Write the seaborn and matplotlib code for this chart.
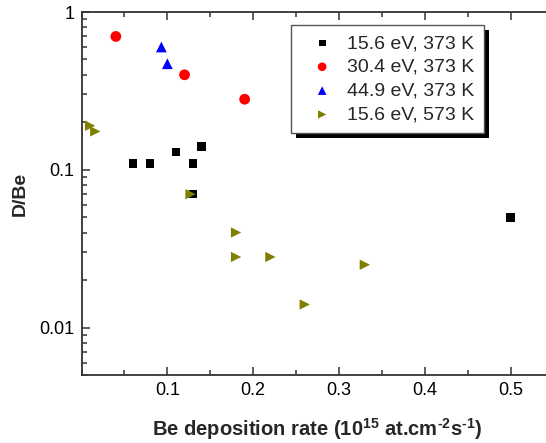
import numpy as np
import pandas as pd
import matplotlib
matplotlib.use('Agg')
import matplotlib.pyplot as plt
import seaborn as sns
from matplotlib.patches import Rectangle
from matplotlib.ticker import LogLocator, MultipleLocator, FixedLocator, FixedFormatter

# data
labels = ['15.6 eV, 373 K', '30.4 eV, 373 K', '44.9 eV, 373 K', '15.6 eV, 573 K']

x_156_373 = [0.06, 0.08, 0.11, 0.13, 0.14, 0.13, 0.50]
y_156_373 = [0.11, 0.11, 0.13, 0.11, 0.14, 0.07, 0.05]

x_304_373 = [0.04, 0.12, 0.19]
y_304_373 = [0.70, 0.40, 0.28]

x_449_373 = [0.093, 0.10]
y_449_373 = [0.60, 0.47]

x_156_573 = [0.010, 0.016, 0.127, 0.18, 0.18, 0.22, 0.26, 0.33]
y_156_573 = [0.19, 0.175, 0.07, 0.04, 0.028, 0.028, 0.014, 0.025]

yticks = [0.01, 0.1, 1]
ytick_labels = ['0.01', '0.1', '1']
xticks = [0.1, 0.2, 0.3, 0.4, 0.5]

xs = [x_156_373, x_304_373, x_449_373, x_156_573]
ys = [y_156_373, y_304_373, y_449_373, y_156_573]
df = pd.concat([pd.DataFrame({'rate': x, 'dbe': y, 'series': lab})
                for x, y, lab in zip(xs, ys, labels)], ignore_index=True)

sns.set_theme(style='ticks')
plt.rcParams['font.family'] = ['Liberation Sans', 'DejaVu Sans']
plt.rcParams['mathtext.fontset'] = 'custom'
plt.rcParams['mathtext.rm'] = 'Liberation Sans'
plt.rcParams['mathtext.bf'] = 'Liberation Sans:bold'

fig = plt.figure(figsize=(5.46, 4.43), dpi=100)
ax = fig.add_axes([0.1493, 0.1535, 0.8648, 0.8194])

palette = {labels[0]: 'black', labels[1]: '#ff0000', labels[2]: '#0000ff', labels[3]: '#808000'}
markers = {labels[0]: 's', labels[1]: 'o', labels[2]: '^', labels[3]: '>'}
sizes = {labels[0]: 38, labels[1]: 60, labels[2]: 60, labels[3]: 55}

for lab in labels:
    sub = df[df['series'] == lab]
    sns.scatterplot(data=sub, x='rate', y='dbe', color=palette[lab], marker=markers[lab],
                    s=sizes[lab], edgecolor='none', linewidth=0, label=lab, ax=ax, zorder=3)

ax.set_yscale('log')
ax.set_xlim(0, 0.55)
ax.set_ylim(0.005, 1)

ax.xaxis.set_major_locator(FixedLocator(xticks))
ax.xaxis.set_minor_locator(MultipleLocator(0.05))
ax.yaxis.set_major_locator(FixedLocator(yticks))
ax.yaxis.set_major_formatter(FixedFormatter(ytick_labels))
ax.yaxis.set_minor_locator(LogLocator(base=10, subs=np.arange(2, 10)))
ax.yaxis.set_minor_formatter(plt.NullFormatter())

ax.tick_params(which='both', direction='in', top=True, right=False, colors='#333333',
               labelcolor='black', labelsize=13, width=1.1)
ax.tick_params(which='major', length=6, pad=5)
ax.tick_params(which='minor', length=3.5)
for side in ['left', 'bottom', 'top']:
    ax.spines[side].set_color('#333333')
    ax.spines[side].set_linewidth(1.3)
ax.spines['right'].set_visible(False)

ax.set_xlabel('Be deposition rate (10$^{\\mathbf{15}}$ at.cm$^{\\mathbf{\u20102}}$s$^{\\mathbf{\u20101}}$)',
              fontsize=14.5, fontweight='bold', labelpad=12)
ax.set_ylabel('D/Be', fontsize=14, fontweight='bold', labelpad=8)

leg = ax.legend(loc='upper left', bbox_to_anchor=(0.4437, 0.965), fontsize=14,
                frameon=True, fancybox=False, framealpha=1, edgecolor='#555555',
                borderpad=0.5, labelspacing=0.32, handletextpad=0.2, borderaxespad=0,
                handlelength=2.2, markerscale=0.8)
leg.get_frame().set_linewidth(1.0)
leg.set_zorder(6)

fig.canvas.draw()
bb = leg.get_window_extent(fig.canvas.get_renderer()).transformed(ax.transAxes.inverted())
dx = 5 / (0.8648 * 546)
dy = 5 / (0.8194 * 443)
ax.add_patch(Rectangle((bb.x0 + dx, bb.y0 - dy), bb.width, bb.height, transform=ax.transAxes,
                       facecolor='black', edgecolor='none', zorder=5.5, clip_on=False))

fig.savefig('out.png', dpi=100)
